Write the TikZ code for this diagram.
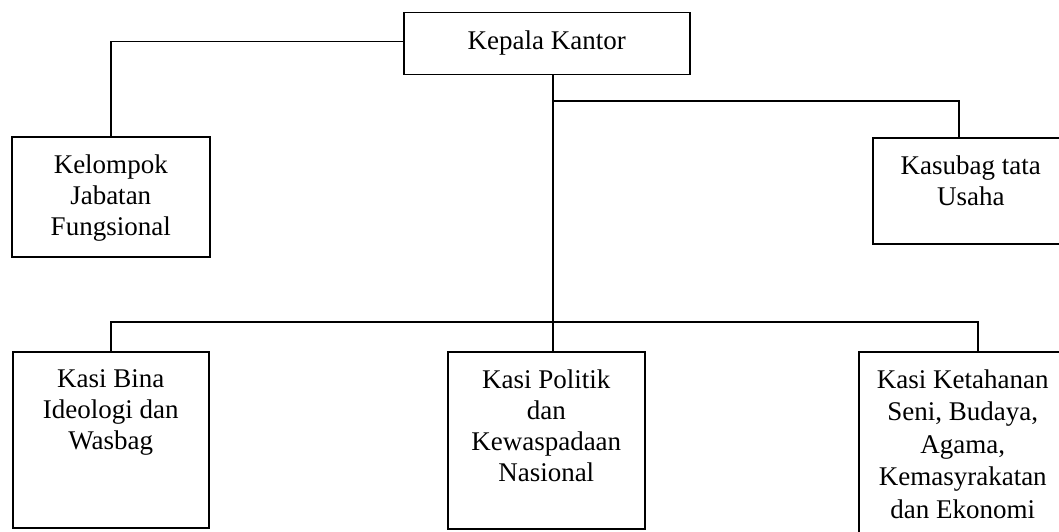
\documentclass[tikz,border=0pt]{standalone}
\usepackage{fontspec}
\setmainfont{Liberation Serif}
\newcommand{\jabatan}[3]{\parbox[t][#2][t]{#1}{\centering\vspace*{18pt}#3}}

\begin{document}
\begin{tikzpicture}[x=1pt, y=-1pt, line width=1.5pt,
  kotak/.style={draw, inner sep=0pt, anchor=north west},
  font=\fontsize{27}{31}\selectfont]
  \useasboundingbox (0,0) rectangle (1059,532);
  \node [kotak] (kepala) at (403,12) {\jabatan{286pt}{62pt}{Kepala Kantor}};
  \node [kotak] (kelompok) at (11,136) {\jabatan{198pt}{120pt}{Kelompok\\Jabatan\\Fungsional}};
  \node [kotak] (kasubag) at (872,137) {\jabatan{196pt}{106pt}{Kasubag tata\\Usaha}};
  \node [kotak] (bina) at (12,351) {\jabatan{196pt}{176pt}{Kasi Bina\\Ideologi dan\\Wasbag}};
  \node [kotak] (politik) at (447,351) {\jabatan{197pt}{177pt}{Kasi Politik\\dan\\Kewaspadaan\\Nasional}};
  \node [kotak] (ketahanan) at (858,351) {\jabatan{208pt}{200pt}{\fontsize{27}{32.5}\selectfont
    Kasi Ketahanan\\Seni, Budaya,\\Agama,\\Kemasyrakatan\\dan Ekonomi}};
  % garis
  \coordinate (cabang) at (553,101);
  \coordinate (bus) at (553,322);
  \draw ([yshift=2pt]kepala.west) -| (kelompok.north);
  \draw (kepala.south -| bus) -- (bus);
  \draw (cabang) -| ([xshift=-12pt]kasubag.north);
  \draw (bina.north) |- (bus) -| ([xshift=15pt]ketahanan.north);
  \draw (bus) -- (bus |- politik.north);
\end{tikzpicture}
\end{document}
